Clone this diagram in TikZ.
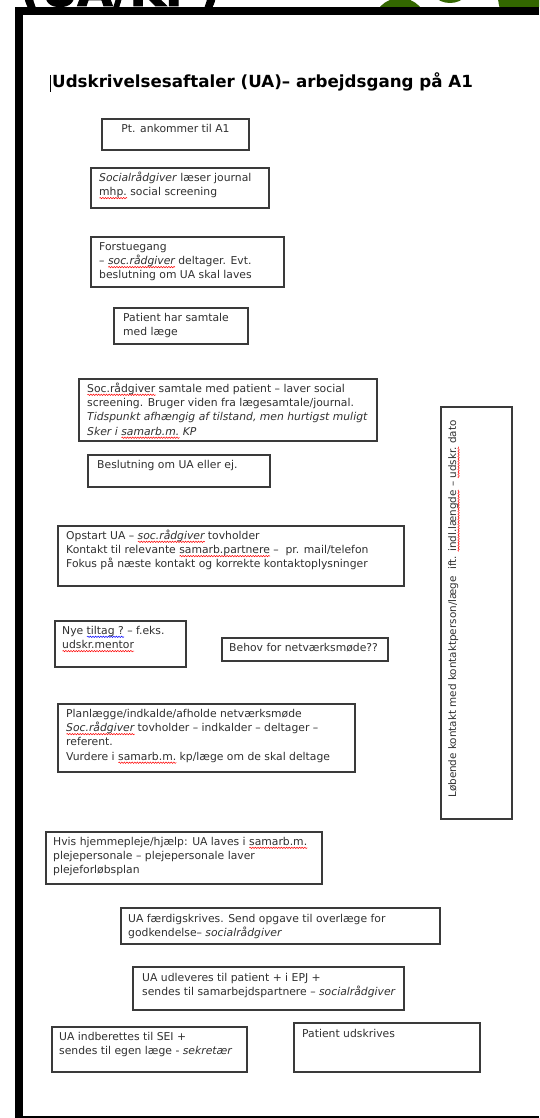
\documentclass[tikz,border=0pt]{standalone}
\usepackage{fontspec}
\setmainfont{DejaVu Sans}
\newfontfamily\bigfont[FakeBold=2]{DejaVu Sans Bold}
\usetikzlibrary{decorations.pathmorphing}
\newsavebox\wavebox
\newlength\wavelen
\newcommand\wavy[2]{\sbox\wavebox{#2}\setlength\wavelen{\wd\wavebox}\rlap{\raisebox{-2.6pt}{\tikz[baseline=0pt]\draw[#1, line width=0.5pt, decorate, decoration={snake, amplitude=0.7pt, segment length=2.6pt}] (0pt,0pt) -- (\wavelen,0pt);}}\usebox\wavebox}
\newcommand\redwave[1]{\wavy{red}{#1}}
\newcommand\bluewave[1]{\wavy{blue}{#1}}
\definecolor{txtc}{HTML}{303030}
\definecolor{boxc}{HTML}{3A3A3A}
\definecolor{leaf}{HTML}{336600}
\begin{document}
\begin{tikzpicture}[x=1pt,y=-1pt,
  box/.style={draw=boxc, line width=1.3pt, fill=white, inner sep=0pt, outer sep=0pt, anchor=north west},
  txt/.style={inner sep=0pt, anchor=north west, align=left, text=txtc, font=\fontsize{10.8}{14.3}\selectfont},
  ttl/.style={inner sep=0pt, anchor=base west, font=\bfseries\fontsize{16.7}{20}\selectfont}]
\useasboundingbox (0,0) rectangle (539,1118);
\fill[white] (0,0) rectangle (539,1118);
% top decorations (cut off)
\begin{scope}
\clip (0,0) rectangle (539,7);
\fill[leaf] (400,25) circle (27);
\fill[leaf] (450,-20) circle (23);
\fill[leaf] (542,-4) circle (44);
\node[inner sep=0pt, anchor=base west, font=\bigfont\fontsize{46}{50}\selectfont] (toptxt) at (20,6) {(UA/KP)};
\end{scope}
% frame
\fill[black] (15,7) rectangle (539,15);
\fill[black] (15,7) rectangle (23,1118);
\fill[black] (15,1116) rectangle (539,1118);
% title
\node[ttl] (title) at (52,88) {Udskrivelsesaftaler (UA)– arbejdsgang på A1};
\draw[black, line width=0.6pt] ([xshift=-2pt,yshift=-4pt]title.base west) -- ++(0,-17);
% boxes
\node[box, minimum width=147pt, minimum height=31pt] (b1) at (102,119) {};
\node[box, minimum width=178pt, minimum height=40pt] (b2) at (91,168) {};
\node[box, minimum width=193pt, minimum height=50pt] (b3) at (91,237) {};
\node[box, minimum width=134pt, minimum height=36pt] (b4) at (114,308) {};
\node[box, minimum width=298pt, minimum height=62pt] (b5) at (79,379) {};
\node[box, minimum width=182pt, minimum height=32pt] (b6) at (88,455) {};
\node[box, minimum width=346pt, minimum height=60pt] (b7) at (58,526) {};
\node[box, minimum width=131pt, minimum height=46pt] (b8) at (55,621) {};
\node[box, minimum width=166pt, minimum height=23pt] (b9) at (222,638) {};
\node[box, minimum width=297pt, minimum height=68pt] (b10) at (58,704) {};
\node[box, minimum width=276pt, minimum height=52pt] (b11) at (46,832) {};
\node[box, minimum width=319pt, minimum height=36pt] (b12) at (121,908) {};
\node[box, minimum width=271pt, minimum height=43pt] (b13) at (133,967) {};
\node[box, minimum width=195pt, minimum height=45pt] (b14) at (52,1027) {};
\node[box, minimum width=186pt, minimum height=49pt] (b15) at (294,1023) {};
\node[box, minimum width=71pt, minimum height=412pt] (bv) at (441,407) {};
% texts
\node[txt, anchor=north] (t1) at (175.5,122) {\strut Pt. ankommer til A1};
\node[txt] (t2) at (99,171) {\strut\textit{Socialrådgiver} læser journal\\\redwave{mhp.} social screening};
\node[txt] (t3) at (99,240) {\strut Forstuegang\\– \textit{\redwave{soc.rådgiver}} deltager. Evt.\\beslutning om UA skal laves};
\node[txt] (t4) at (123,311) {\strut Patient har samtale\\med læge};
\node[txt] (t5) at (87,382) {\strut\redwave{Soc.rådgiver} samtale med patient – laver social\\screening. Bruger viden fra lægesamtale/journal.\\\textit{Tidspunkt afhængig af tilstand, men hurtigst muligt}\\\textit{Sker i \redwave{samarb.m.} KP}};
\node[txt] (t6) at (97,458) {\strut Beslutning om UA eller ej.};
\node[txt] (t7) at (66,529) {\strut Opstart UA – \textit{\redwave{soc.rådgiver}} tovholder\\Kontakt til relevante \redwave{samarb.partnere} –\ \ pr. mail/telefon\\Fokus på næste kontakt og korrekte kontaktoplysninger};
\node[txt] (t8) at (62,624) {\strut Nye \bluewave{tiltag ?} – f.eks.\\\redwave{udskr.mentor}};
\node[txt] (t9) at (229,641) {\strut Behov for netværksmøde??};
\node[txt] (t10) at (66,707) {\strut Planlægge/indkalde/afholde netværksmøde\\\textit{\redwave{Soc.rådgiver}} tovholder – indkalder – deltager –\\referent.\\Vurdere i \redwave{samarb.m.} kp/læge om de skal deltage};
\node[txt] (t11) at (53,835) {\strut Hvis hjemmepleje/hjælp: UA laves i \redwave{samarb.m.}\\plejepersonale – plejepersonale laver\\plejeforløbsplan};
\node[txt] (t12) at (128,912) {\strut UA færdigskrives. Send opgave til overlæge for\\godkendelse– \textit{socialrådgiver}};
\node[txt] (t13) at (142,971) {\strut UA udleveres til patient + i EPJ +\\sendes til samarbejdspartnere – \textit{socialrådgiver}};
\node[txt] (t14) at (59,1030) {\strut UA indberettes til SEI +\\sendes til egen læge - \textit{sekretær}};
\node[txt] (t15) at (302,1027) {\strut Patient udskrives};
\node[txt, anchor=base, rotate=90, font=\fontsize{10.4}{13}\selectfont] (tv) at (456,609) {Løbende kontakt med kontaktperson/læge\ \ ift. \redwave{indl.længde} – \redwave{udskr.} dato};
\end{tikzpicture}
\end{document}
